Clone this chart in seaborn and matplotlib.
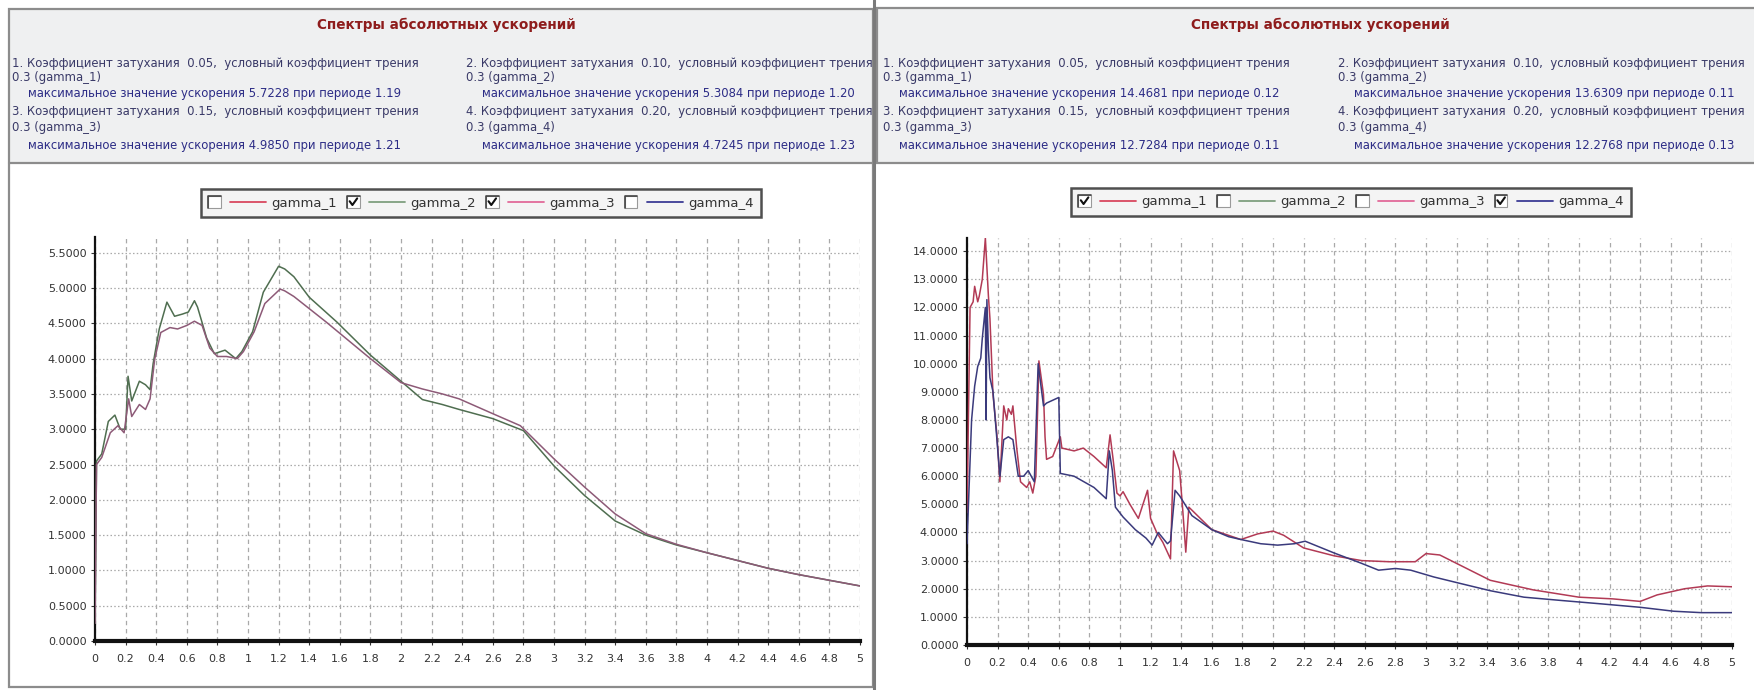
import numpy as np
import pandas as pd
import matplotlib
matplotlib.use("Agg")
import matplotlib.pyplot as plt
import seaborn as sns
from matplotlib.patches import Rectangle
from matplotlib.lines import Line2D
from matplotlib.legend_handler import HandlerBase

# ---------------- data ----------------
SERIES = ["gamma_1", "gamma_2", "gamma_3", "gamma_4"]
LEFT_CHECKED = [False, True, True, False]
RIGHT_CHECKED = [True, False, False, True]

TITLE = "Спектры абсолютных ускорений"
DAMPING = ["0.05", "0.10", "0.15", "0.20"]
FRICTION = "0.3"
LEFT_MAX = ["5.7228", "5.3084", "4.9850", "4.7245"]
LEFT_PER = ["1.19", "1.20", "1.21", "1.23"]
RIGHT_MAX = ["14.4681", "13.6309", "12.7284", "12.2768"]
RIGHT_PER = ["0.12", "0.11", "0.11", "0.13"]

# left chart: gamma_2, gamma_3
L_G2_X = [0, 0.01, 0.044, 0.087, 0.13, 0.165, 0.2, 0.216, 0.24, 0.29, 0.33, 0.36, 0.38, 0.42, 0.47,
          0.52, 0.57, 0.61, 0.65, 0.67, 0.73, 0.78, 0.85, 0.92, 0.96, 1.03, 1.1, 1.2, 1.24, 1.3, 1.4,
          1.58, 1.8, 2.0, 2.14, 2.27, 2.38, 2.6, 2.8, 3.0, 3.2, 3.4, 3.6, 3.8, 4.0, 4.2, 4.4, 4.6, 4.8, 5.0]
L_G2_Y = [0.25, 2.55, 2.65, 3.11, 3.2, 3.0, 3.0, 3.75, 3.4, 3.68, 3.63, 3.56, 3.93, 4.42, 4.8,
          4.6, 4.63, 4.66, 4.82, 4.73, 4.29, 4.07, 4.12, 4.0, 4.1, 4.38, 4.94, 5.3084, 5.27, 5.16, 4.87,
          4.52, 4.05, 3.68, 3.42, 3.35, 3.28, 3.15, 2.98, 2.48, 2.06, 1.7, 1.5, 1.36, 1.25, 1.14, 1.03, 0.94, 0.86, 0.78]
L_G3_X = [0, 0.01, 0.044, 0.1, 0.15, 0.19, 0.22, 0.24, 0.29, 0.33, 0.36, 0.39, 0.43, 0.49, 0.54,
          0.6, 0.65, 0.7, 0.75, 0.8, 0.86, 0.93, 0.97, 1.04, 1.11, 1.21, 1.24, 1.3, 1.51, 1.8, 2.0,
          2.14, 2.27, 2.38, 2.6, 2.78, 3.0, 3.2, 3.4, 3.6, 3.8, 4.0, 4.2, 4.4, 4.6, 4.8, 5.0]
L_G3_Y = [0.25, 2.5, 2.6, 2.95, 3.05, 2.95, 3.43, 3.18, 3.35, 3.28, 3.43, 3.99, 4.37, 4.44, 4.42,
          4.47, 4.53, 4.47, 4.15, 4.03, 4.03, 4.0, 4.1, 4.38, 4.78, 4.985, 4.96, 4.88, 4.52, 4.0, 3.66,
          3.57, 3.5, 3.43, 3.22, 3.05, 2.58, 2.18, 1.8, 1.52, 1.37, 1.25, 1.14, 1.03, 0.94, 0.86, 0.78]

# right chart: gamma_1, gamma_4
R_G1_X = [0, 0.02, 0.04, 0.05, 0.07, 0.08, 0.10, 0.12, 0.14, 0.15, 0.17, 0.195, 0.215, 0.24, 0.26,
          0.27, 0.29, 0.30, 0.325, 0.35, 0.39, 0.41, 0.43, 0.45, 0.47, 0.50, 0.51, 0.52, 0.56, 0.61,
          0.62, 0.70, 0.76, 0.83, 0.91, 0.935, 0.955, 0.98, 1.00, 1.02, 1.065, 1.12, 1.18, 1.20, 1.24,
          1.28, 1.33, 1.35, 1.39, 1.41, 1.43, 1.45, 1.6, 1.79, 1.9, 2.0, 2.07, 2.2, 2.4, 2.58, 2.76,
          2.93, 3.0, 3.09, 3.2, 3.42, 3.7, 4.0, 4.22, 4.4, 4.51, 4.69, 4.84, 5.0]
R_G1_Y = [4.7, 12.0, 12.2, 12.75, 12.2, 12.4, 13.0, 14.4681, 12.4, 11.6, 8.9, 7.5, 5.8, 8.5, 8.0,
          8.4, 8.2, 8.5, 7.0, 5.8, 5.6, 5.8, 5.4, 6.0, 10.1, 8.9, 7.4, 6.6, 6.7, 7.4,
          7.0, 6.9, 7.0, 6.7, 6.3, 7.47, 6.6, 5.4, 5.3, 5.45, 5.0, 4.5, 5.5, 4.5, 4.0,
          3.65, 3.06, 6.9, 6.2, 4.8, 3.3, 4.9, 4.1, 3.75, 3.95, 4.05, 3.9, 3.45, 3.17, 3.0, 2.96,
          2.96, 3.25, 3.2, 2.9, 2.3, 1.96, 1.7, 1.64, 1.55, 1.78, 2.0, 2.1, 2.07]
R_G4_X = [0, 0.03, 0.05, 0.07, 0.09, 0.10, 0.12, 0.125, 0.13, 0.14, 0.15, 0.17, 0.185, 0.215, 0.24,
          0.27, 0.30, 0.335, 0.37, 0.40, 0.42, 0.44, 0.465, 0.50, 0.52, 0.56, 0.60, 0.61, 0.70, 0.83,
          0.91, 0.93, 0.95, 0.97, 1.02, 1.10, 1.17, 1.21, 1.25, 1.28, 1.31, 1.33, 1.36, 1.39, 1.43,
          1.47, 1.6, 1.71, 1.79, 1.92, 2.03, 2.14, 2.21, 2.4, 2.58, 2.69, 2.8, 2.9, 3.05, 3.23, 3.42,
          3.64, 3.89, 4.15, 4.4, 4.62, 4.8, 5.0]
R_G4_Y = [3.6, 8.0, 9.2, 9.9, 10.2, 10.9, 12.0, 8.0, 12.2768, 10.5, 9.5, 9.0, 8.0, 6.0, 7.3,
          7.4, 7.3, 6.0, 6.0, 6.2, 6.0, 5.8, 10.0, 8.5, 8.6, 8.7, 8.8, 6.1, 6.0, 5.6,
          5.2, 6.9, 6.2, 4.9, 4.55, 4.1, 3.8, 3.55, 4.0, 3.8, 3.6, 3.7, 5.5, 5.3, 4.95,
          4.6, 4.1, 3.85, 3.75, 3.6, 3.55, 3.6, 3.69, 3.27, 2.9, 2.66, 2.72, 2.66, 2.42, 2.18, 1.93,
          1.7, 1.58, 1.46, 1.34, 1.2, 1.15, 1.15]

X_TICKS = [round(0.2 * i, 1) for i in range(26)]
L_Y_TICKS = [0.5 * i for i in range(12)]
R_Y_TICKS = [float(i) for i in range(15)]
L_YMAX = 5.7228
R_YMAX = 14.4681

LEGEND_COLORS = {"gamma_1": "#d9485f", "gamma_2": "#7f9f7f", "gamma_3": "#e26a9a", "gamma_4": "#3b3b95"}
LINE_COLORS = {"gamma_1": "#b23a55", "gamma_2": "#4f6e50", "gamma_3": "#8d5a77", "gamma_4": "#3a3a7c"}

# ---------------- figure ----------------
sns.set_style("white")
plt.rcParams["font.family"] = ["DejaVu Sans"]

W, H = 1754, 690
fig = plt.figure(figsize=(W / 100, H / 100), dpi=100)
fig.patch.set_facecolor("white")
bg = fig.add_axes([0, 0, 1, 1], zorder=0)
bg.set_xlim(0, W)
bg.set_ylim(H, 0)
bg.axis("off")

HEAD_BG = "#eff0f1"
FRAME = "#8c8c8c"

# header boxes and frames (pixel coords)
bg.add_patch(Rectangle((9, 9), 864, 154, facecolor=HEAD_BG, edgecolor="none", zorder=1))
bg.add_patch(Rectangle((9, 9), 864, 678, facecolor="none", edgecolor=FRAME, lw=1.6, zorder=6))
bg.plot([9, 873], [163, 163], color=FRAME, lw=1.6, zorder=6)
bg.add_patch(Rectangle((874, 0), W - 874, 163, facecolor="white", edgecolor="none", zorder=3))
bg.add_patch(Rectangle((877, 8), W - 877 + 5, 155, facecolor=HEAD_BG, edgecolor=FRAME, lw=1.6, zorder=3.5))
bg.plot([874, 874], [0, H], color="#7a7a7a", lw=2.2, zorder=7)

TXT = "#3a3a68"
MAXC = "#2c2c86"
HFS = 8.4


def header(x0, col2, title_cx, zbase, maxv, perv):
    bg.text(title_cx, 25, TITLE, ha="center", va="center", fontsize=9.8, fontweight="bold",
            color="#8e1c1c", zorder=zbase)
    ys = [63, 78, 93, 112, 127, 146]
    for k, idx in enumerate([0, 2]):
        for col, i in ((x0, idx), (col2, idx + 1)):
            y1, y2, y3 = ys[3 * k], ys[3 * k + 1], ys[3 * k + 2]
            bg.text(col, y1, f"{i + 1}. Коэффициент затухания  {DAMPING[i]},  условный коэффициент трения",
                    ha="left", va="center", fontsize=HFS, color=TXT, zorder=zbase)
            bg.text(col, y2, f"{FRICTION} ({SERIES[i]})", ha="left", va="center", fontsize=HFS,
                    color=TXT, zorder=zbase)
            bg.text(col + 16, y3, f"максимальное значение ускорения {maxv[i]} при периоде {perv[i]}",
                    ha="left", va="center", fontsize=HFS, color=MAXC, zorder=zbase)


header(12, 466, 446, 2, LEFT_MAX, LEFT_PER)
header(883, 1338, 1320, 4, RIGHT_MAX, RIGHT_PER)


# ---------------- legend handler ----------------
class CheckEntry:
    def __init__(self, checked, color):
        self.checked = checked
        self.color = color


class CheckHandler(HandlerBase):
    def create_artists(self, legend, orig, xdescent, ydescent, width, height, fontsize, trans):
        s = fontsize * 0.95
        x0 = -xdescent
        y0 = -ydescent + (height - s) / 2
        arts = [Rectangle((x0, y0), s, s, facecolor="white", edgecolor="#9a9a9a", lw=0.8, transform=trans)]
        arts.append(Line2D([x0, x0, x0 + s], [y0, y0 + s, y0 + s], color="#444444", lw=1.2, transform=trans))
        if orig.checked:
            arts.append(Line2D([x0 + 0.2 * s, x0 + 0.42 * s, x0 + 0.8 * s],
                               [y0 + 0.55 * s, y0 + 0.25 * s, y0 + 0.78 * s],
                               color="#111111", lw=1.5, transform=trans))
        ly = -ydescent + height / 2
        arts.append(Line2D([x0 + s + 0.7 * fontsize, x0 + width], [ly, ly], color=orig.color, lw=1.3,
                           transform=trans))
        return arts


def make_panel(x_left, x_right, y_top, y_bot, ymax, yticks, series_data, checked, legend_center):
    ax = fig.add_axes([x_left / W, 1 - y_bot / H, (x_right - x_left) / W, (y_bot - y_top) / H], zorder=5)
    ax.set_facecolor("none")
    frames = []
    for name, (xs, ys) in series_data.items():
        frames.append(pd.DataFrame({"T": xs, "A": ys, "series": name}))
    df = pd.concat(frames, ignore_index=True)
    sns.lineplot(data=df, x="T", y="A", hue="series", palette=LINE_COLORS, estimator=None, sort=False,
                 legend=False, lw=1.1, ax=ax, zorder=3)
    ax.set_xlim(0, 5)
    ax.set_ylim(0, ymax)
    ax.set_xticks(X_TICKS)
    ax.set_xticklabels([f"{v:g}" for v in X_TICKS])
    ax.set_yticks(yticks)
    ax.set_yticklabels([f"{v:.4f}" for v in yticks])
    ax.set_xlabel("")
    ax.set_ylabel("")
    ax.tick_params(axis="both", labelsize=8, labelcolor="#333333", colors="#333333", length=3,
                   width=0.8, pad=3, direction="out", left=True, bottom=True)
    ax.tick_params(axis="x", pad=6)
    ax.xaxis.grid(True, color="#a9a9a9", linestyle=(0, (3.5, 3)), lw=0.9)
    ax.yaxis.grid(True, color="#a9a9a9", linestyle=(0, (1.2, 1.8)), lw=0.9)
    ax.set_axisbelow(True)
    for sp in ("top", "right"):
        ax.spines[sp].set_visible(False)
    ax.spines["left"].set_color("#111111")
    ax.spines["left"].set_linewidth(1.6)
    ax.spines["bottom"].set_color("#111111")
    ax.spines["bottom"].set_linewidth(3.0)
    for lab in ax.get_xticklabels() + ax.get_yticklabels():
        lab.set_color("#333333")

    handles = [CheckEntry(c, LEGEND_COLORS[s]) for s, c in zip(SERIES, checked)]
    leg = ax.legend(handles, SERIES, handler_map={CheckEntry: CheckHandler()}, loc="center",
                    bbox_to_anchor=legend_center, bbox_transform=bg.transData, ncol=4, fontsize=9.5,
                    handlelength=4.4, handletextpad=0.4, columnspacing=0.75, borderpad=0.55,
                    fancybox=False, frameon=True)
    fr = leg.get_frame()
    fr.set_facecolor("#f4f4f4")
    fr.set_edgecolor("#4f4f4f")
    fr.set_linewidth(1.8)
    fr.set_alpha(1)
    for t in leg.get_texts():
        t.set_color("#333333")
    return ax


make_panel(95, 860, 237, 641, L_YMAX, L_Y_TICKS,
           {"gamma_2": (L_G2_X, L_G2_Y), "gamma_3": (L_G3_X, L_G3_Y)},
           LEFT_CHECKED, (481, 203))
make_panel(967, 1732, 238, 645, R_YMAX, R_Y_TICKS,
           {"gamma_1": (R_G1_X, R_G1_Y), "gamma_4": (R_G4_X, R_G4_Y)},
           RIGHT_CHECKED, (1351, 202))

fig.savefig("out.png", dpi=100, facecolor="white")
